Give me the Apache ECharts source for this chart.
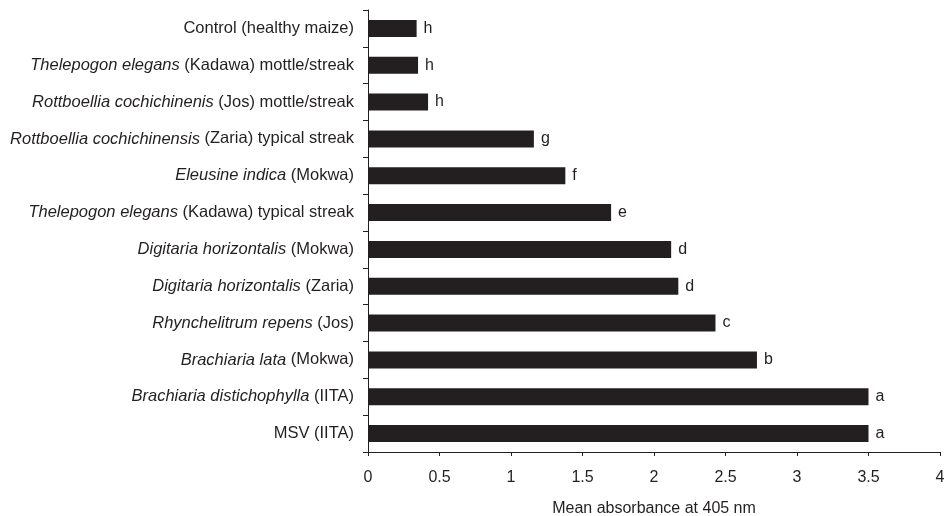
<!DOCTYPE html>
<html>
<head>
<meta charset="utf-8">
<script src="https://cdn.jsdelivr.net/npm/echarts@6/dist/echarts.min.js"></script>
<style>
  html, body { margin: 0; padding: 0; background: #fff; }
  #chart { width: 947px; height: 516px; }
</style>
</head>
<body>
<div id="chart"></div>
<script>
// Virus sources, top to bottom. Italic species names are split out from the rest of the label.
const speciesNames = [
  '', 'Thelepogon elegans', 'Rottboellia cochichinenis', 'Rottboellia cochichinensis',
  'Eleusine indica', 'Thelepogon elegans', 'Digitaria horizontalis', 'Digitaria horizontalis',
  'Rhynchelitrum repens', 'Brachiaria lata', 'Brachiaria distichophylla', ''
];
const sourceSuffixes = [
  'Control (healthy maize)', ' (Kadawa) mottle/streak', ' (Jos) mottle/streak', ' (Zaria) typical streak',
  ' (Mokwa)', ' (Kadawa) typical streak', ' (Mokwa)', ' (Zaria)',
  ' (Jos)', ' (Mokwa)', ' (IITA)', 'MSV (IITA)'
];
// Mean absorbance at 405 nm
const meanAbsorbance = [0.34, 0.35, 0.42, 1.16, 1.38, 1.70, 2.12, 2.17, 2.43, 2.72, 3.50, 3.50];
// Significance letters
const groupLetters = ['h', 'h', 'h', 'g', 'f', 'e', 'd', 'd', 'c', 'b', 'a', 'a'];
const xTicks = [0, 0.5, 1, 1.5, 2, 2.5, 3, 3.5, 4];

const categories = speciesNames.map((s, i) => s + '|' + sourceSuffixes[i]);

const ink = '#231f20';
const font = 'Liberation Sans, Arial, Helvetica, sans-serif';
const labelSize = 16.5;
const textSize = 16;

const chart = echarts.init(document.getElementById('chart'), null, { renderer: 'canvas' });
chart.setOption({
  animation: false,
  grid: { left: 368, right: 7, top: 10, bottom: 64, containLabel: false, outerBoundsMode: 'none' },
  xAxis: {
    type: 'value',
    min: xTicks[0],
    max: xTicks[xTicks.length - 1],
    interval: 0.5,
    name: 'Mean absorbance at 405 nm',
    nameLocation: 'middle',
    nameGap: 49,
    nameTextStyle: { color: ink, fontFamily: font, fontSize: textSize },
    axisLine: { show: true, lineStyle: { color: ink, width: 1 } },
    axisTick: { show: true, length: 4, lineStyle: { color: ink } },
    axisLabel: { color: ink, fontFamily: font, fontSize: textSize, margin: 18,
      formatter: v => String(v) },
    splitLine: { show: false }
  },
  yAxis: {
    type: 'category',
    inverse: true,
    data: categories,
    axisLine: { show: true, lineStyle: { color: ink, width: 1 } },
    axisTick: { show: true, length: 5, lineStyle: { color: ink } },
    axisLabel: {
      margin: 14,
      color: ink,
      fontFamily: font,
      fontSize: labelSize,
      formatter: function (v) {
        const parts = v.split('|');
        return (parts[0] ? '{i|' + parts[0] + '}' : '') + '{n|' + parts[1] + '}';
      },
      rich: {
        i: { fontStyle: 'italic', color: ink, fontFamily: font, fontSize: labelSize },
        n: { color: ink, fontFamily: font, fontSize: labelSize }
      }
    }
  },
  series: [{
    type: 'bar',
    data: meanAbsorbance,
    barWidth: 17,
    itemStyle: { color: ink },
    label: {
      show: true,
      position: 'right',
      distance: 7,
      color: ink,
      fontFamily: font,
      fontSize: textSize,
      formatter: p => groupLetters[p.dataIndex]
    }
  }]
});
</script>
</body>
</html>
